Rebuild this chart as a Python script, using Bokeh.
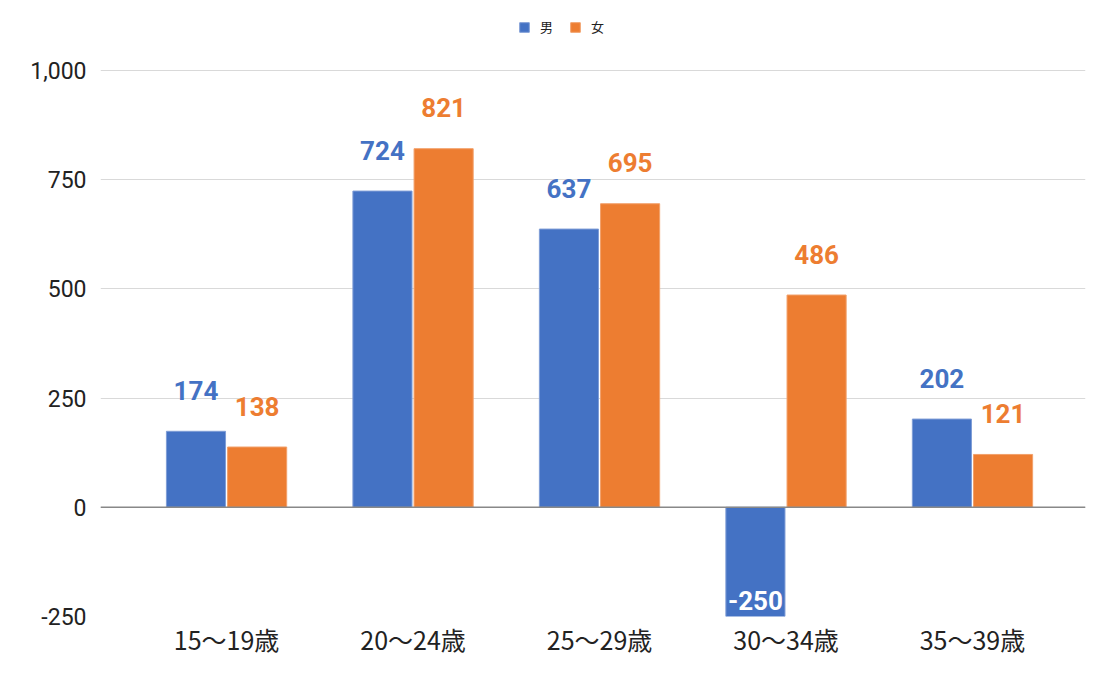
from bokeh.plotting import figure
from bokeh.models import ColumnDataSource, Span, FixedTicker, Legend, LegendItem, NumeralTickFormatter
from bokeh.core.properties import value
from bokeh.embed import file_html
from bokeh.resources import INLINE

# data
groups = ["15～19歳", "20～24歳", "25～29歳", "30～34歳", "35～39歳"]
male = [174, 724, 637, -250, 202]
female = [138, 821, 695, 486, 121]
y_ticks = [-250, 0, 250, 500, 750, 1000]

BLUE = "#4472C4"
ORANGE = "#ED7D31"

xs = list(range(len(groups)))
off = 0.164
bw = 0.317

# frame reaches up to the legend row, gridlines stop at 1000
p = figure(width=1095, height=673, output_backend="svg", toolbar_location=None,
           x_range=(-0.676, 4.606), y_range=(-250, 1137.4),
           min_border_left=100, min_border_right=10, min_border_top=10, min_border_bottom=57)
p.outline_line_color = None

src_m = ColumnDataSource(dict(x=[x - off for x in xs], top=male))
src_f = ColumnDataSource(dict(x=[x + off for x in xs], top=female,
                              lbl=[str(v) for v in female]))

rm = p.vbar(x="x", top="top", bottom=0, width=bw, source=src_m,
            fill_color=BLUE, line_color="#7f9dd6", line_width=1)
rf = p.vbar(x="x", top="top", bottom=0, width=bw, source=src_f,
            fill_color=ORANGE, line_color="#f2a06a", line_width=1)

# data labels
pos_m = ColumnDataSource(dict(x=[x - off for x, v in zip(xs, male) if v >= 0],
                              y=[v for v in male if v >= 0],
                              t=[str(v) for v in male if v >= 0]))
neg_m = ColumnDataSource(dict(x=[x - off for x, v in zip(xs, male) if v < 0],
                              y=[v for v in male if v < 0],
                              t=[str(v) for v in male if v < 0]))
lbl_style = dict(text_align="center", text_baseline="middle",
                 text_font=value("Roboto"), text_font_style="bold", text_font_size="26px")
p.text(x="x", y="y", text="t", source=pos_m, y_offset=-41, text_color=BLUE, **lbl_style)
p.text(x="x", y="y", text="t", source=neg_m, y_offset=-16, text_color="white", **lbl_style)
p.text(x="x", y="top", text="lbl", source=src_f, y_offset=-41, text_color=ORANGE, **lbl_style)

p.add_layout(Span(location=0, dimension="width", line_color="#888888", line_width=1.5))

# axes
p.xaxis.ticker = FixedTicker(ticks=xs)
p.xaxis.major_label_overrides = {i: g for i, g in enumerate(groups)}
p.xaxis.axis_line_color = None
p.xaxis.major_tick_line_color = None
p.xaxis.minor_tick_line_color = None
p.xaxis.major_label_standoff = -2
p.xaxis.major_label_text_font = "Noto Sans CJK JP"
p.xaxis.major_label_text_font_size = "25px"
p.xaxis.major_label_text_color = "#222222"
p.xgrid.grid_line_color = None

p.yaxis.ticker = FixedTicker(ticks=y_ticks)
p.yaxis.formatter = NumeralTickFormatter(format="0,0")
p.yaxis.axis_line_color = None
p.yaxis.major_tick_line_color = None
p.yaxis.minor_tick_line_color = None
p.yaxis.major_label_standoff = 8
p.yaxis.major_label_text_font = "Roboto"
p.yaxis.major_label_text_font_size = "23px"
p.yaxis.major_label_text_color = "#222222"
p.ygrid.grid_line_color = "#d9d9d9"
p.ygrid.grid_line_width = 1

legend = Legend(items=[LegendItem(label="男", renderers=[rm]),
                       LegendItem(label="女", renderers=[rf])],
                orientation="horizontal", location=(418, 580),
                label_text_font="Noto Sans CJK JP", label_text_font_size="13px",
                label_text_color="#222222", glyph_width=12, glyph_height=12,
                spacing=9, padding=4, margin=0, border_line_color=None,
                background_fill_alpha=0, label_standoff=10)
p.add_layout(legend, "center")

open("out.html", "w").write(file_html(p, INLINE))
